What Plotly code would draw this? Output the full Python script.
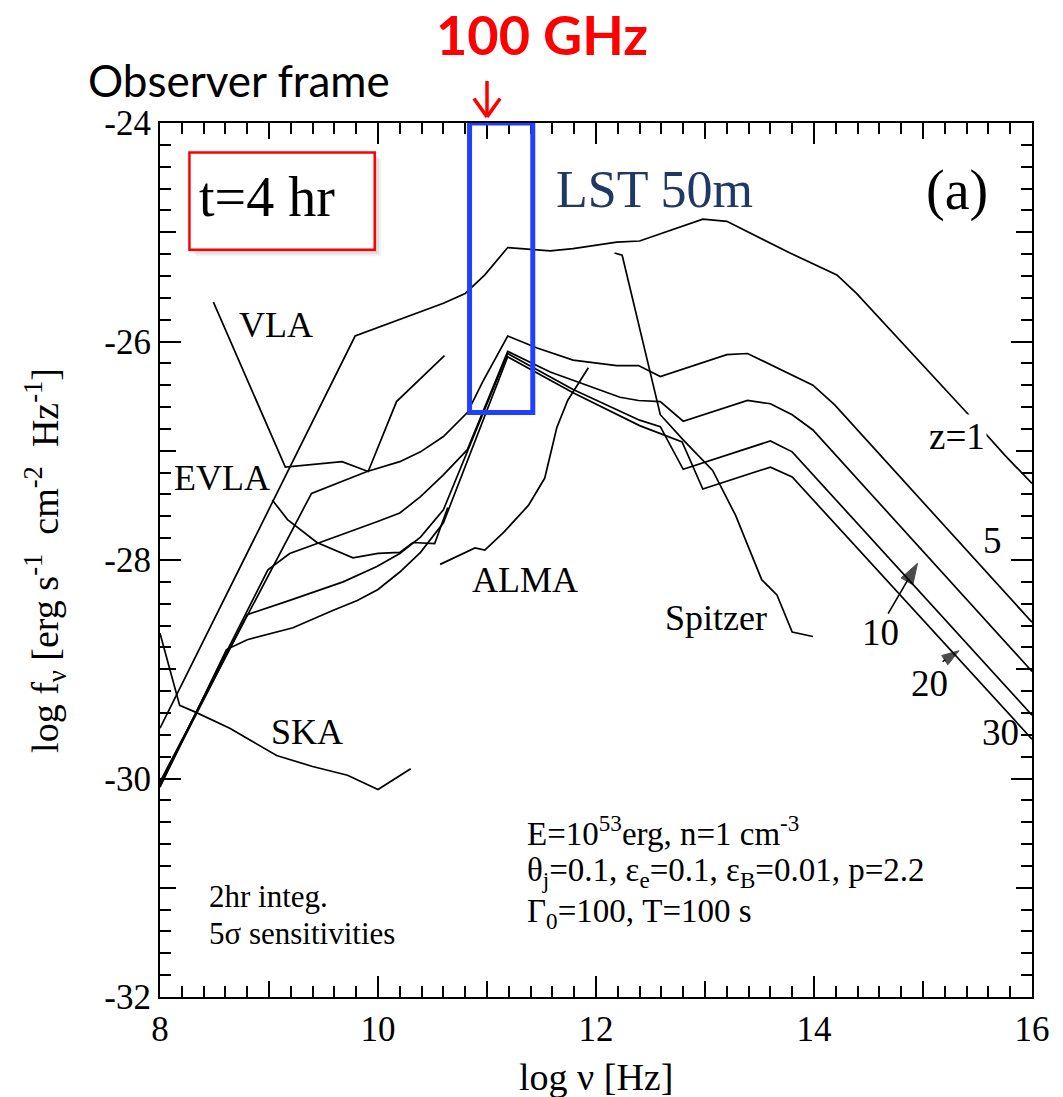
import plotly.graph_objects as go

# ---------------- data ----------------
# afterglow model curves, observer frame, t = 4 hr
x_z1 = [8.0, 9.79, 10.60, 10.80, 10.98, 11.19, 11.58, 11.79, 12.19, 12.40, 12.98, 13.20, 13.78, 14.21, 14.39, 15.40, 15.75, 16.0]
y_z1 = [-29.54, -25.95, -25.65, -25.56, -25.39, -25.14, -25.17, -25.15, -25.09, -25.08, -24.88, -24.90, -25.19, -25.39, -25.56, -26.65, -27.04, -27.30]

x_z5 = [8.0, 9.39, 9.90, 10.20, 10.39, 10.60, 10.82, 10.96, 11.19, 11.46, 11.79, 12.19, 12.39, 12.59, 13.20, 13.39, 13.99, 14.19, 16.0]
y_z5 = [-30.03, -27.39, -27.19, -27.10, -27.01, -26.87, -26.65, -26.37, -25.95, -26.06, -26.17, -26.22, -26.22, -26.32, -26.12, -26.11, -26.40, -26.58, -28.57]

x_z10 = [8.0, 8.99, 9.19, 9.72, 9.99, 10.20, 10.39, 10.60, 10.82, 11.19, 11.58, 12.22, 12.39, 12.59, 12.80, 13.39, 13.60, 13.80, 13.99, 16.0]
y_z10 = [-30.05, -28.09, -27.94, -27.75, -27.65, -27.57, -27.42, -27.22, -26.99, -26.09, -26.28, -26.51, -26.54, -26.55, -26.73, -26.54, -26.57, -26.67, -26.81, -29.02]

x_z20 = [8.0, 8.80, 9.19, 9.68, 9.99, 10.20, 10.39, 10.60, 11.19, 11.79, 12.40, 12.59, 12.80, 13.60, 13.80, 16.0]
y_z20 = [-30.06, -28.50, -28.37, -28.20, -28.06, -27.94, -27.79, -27.54, -26.11, -26.44, -26.72, -26.78, -27.17, -26.91, -27.01, -29.42]

x_z30 = [8.0, 8.61, 8.80, 9.22, 9.59, 9.81, 10.0, 10.20, 10.39, 10.60, 11.19, 11.79, 12.40, 12.79, 12.98, 13.60, 13.80, 16.0]
y_z30 = [-30.08, -28.82, -28.73, -28.62, -28.46, -28.37, -28.27, -28.11, -27.93, -27.66, -26.14, -26.47, -26.77, -26.92, -27.35, -27.15, -27.24, -29.64]

# instrument sensitivities (2 hr integration, 5 sigma)
x_vla = [8.49, 9.15, 9.67, 9.91, 10.17, 10.61]
y_vla = [-25.64, -27.15, -27.10, -27.19, -26.55, -26.13]

x_evla = [9.03, 9.17, 9.44, 9.77, 10.00, 10.20, 10.32, 10.52, 10.64]
y_evla = [-27.45, -27.63, -27.84, -27.98, -27.94, -27.93, -27.84, -27.85, -27.52]

x_alma = [10.57, 10.89, 10.98, 11.15, 11.38, 11.53, 11.64, 11.74, 11.93]
y_alma = [-28.04, -27.89, -27.91, -27.75, -27.50, -27.25, -26.79, -26.54, -26.24]

x_ska = [8.0, 8.18, 8.32, 8.64, 9.07, 9.40, 9.72, 10.00, 10.30]
y_ska = [-28.67, -29.33, -29.39, -29.54, -29.79, -29.89, -29.97, -30.10, -29.91]

x_spitzer = [12.17, 12.24, 12.59, 12.80, 13.07, 13.28, 13.41, 13.52, 13.66, 13.80, 13.99]
y_spitzer = [-25.19, -25.21, -26.67, -26.90, -27.18, -27.59, -27.91, -28.18, -28.32, -28.66, -28.70]

x_label_ticks = [8, 10, 12, 14, 16]
x_mid_ticks = [9, 11, 13, 15]
y_label_ticks = [-32, -30, -28, -26, -24]
y_mid_ticks = [-31, -29, -27, -25]

# ---------------- figure ----------------
SERIF = "Liberation Serif, Times New Roman, serif"
SANS = "Lato, Open Sans, sans-serif"
fig = go.Figure()

line_style = dict(color="black", width=1.7)
for xs, ys, nm in [(x_z1, y_z1, "z=1"), (x_z5, y_z5, "z=5"), (x_z10, y_z10, "z=10"),
                   (x_z20, y_z20, "z=20"), (x_z30, y_z30, "z=30"),
                   (x_vla, y_vla, "VLA"), (x_evla, y_evla, "EVLA"), (x_alma, y_alma, "ALMA"),
                   (x_ska, y_ska, "SKA"), (x_spitzer, y_spitzer, "Spitzer")]:
    fig.add_trace(go.Scatter(x=xs, y=ys, mode="lines", line=line_style, name=nm,
                             showlegend=False, hoverinfo="skip"))

# pointer arrows for the z=10 and z=20 labels (tail -> head)
for ax_, ay_, hx, hy, sz in [(14.68, -28.49, 14.95, -28.03, 22), (15.18, -28.93, 15.33, -28.83, 18)]:
    fig.add_trace(go.Scatter(x=[ax_, hx], y=[ay_, hy], mode="lines+markers",
                             line=dict(color="black", width=1.6),
                             marker=dict(symbol="arrow", size=[0, sz], angleref="previous",
                                         color="black", line=dict(width=1, color="black")),
                             showlegend=False, hoverinfo="skip"))

# invisible trace to carry the overlay axes that draw the unlabeled integer ticks
fig.add_trace(go.Scatter(x=[None], y=[None], xaxis="x2", yaxis="y2", showlegend=False,
                         hoverinfo="skip"))

axis_common = dict(
    showline=True, linecolor="black", linewidth=2, mirror="allticks",
    ticks="inside", ticklen=21, tickwidth=1.5, tickcolor="black",
    showgrid=False, zeroline=False,
    tickfont=dict(family=SERIF, size=35, color="black"),
    minor=dict(ticks="inside", ticklen=11, tickwidth=1.5, tickcolor="black", dtick=0.2, showgrid=False),
)
fig.update_layout(
    xaxis=dict(range=[8, 16], tickmode="array", tickvals=x_label_ticks,
               ticktext=[str(v) for v in x_label_ticks], **axis_common),
    yaxis=dict(range=[-32, -24], tickmode="array", tickvals=y_label_ticks,
               ticktext=[str(v) for v in y_label_ticks], **axis_common),
    xaxis2=dict(range=[8, 16], overlaying="x", anchor="y2", side="bottom", tickmode="array",
                tickvals=x_mid_ticks, showticklabels=False, ticks="inside", ticklen=16,
                tickwidth=1.5, tickcolor="black", mirror="ticks", showline=False,
                showgrid=False, zeroline=False),
    yaxis2=dict(range=[-32, -24], overlaying="y", anchor="x2", side="left", tickmode="array",
                tickvals=y_mid_ticks, showticklabels=False, ticks="inside", ticklen=16,
                tickwidth=1.5, tickcolor="black", mirror="ticks", showline=False,
                showgrid=False, zeroline=False),
)

shapes = []
# t=4 hr box with soft shadow
for off, a in [(0.06, 0.05), (0.04, 0.07), (0.02, 0.08)]:
    shapes.append(dict(type="rect", xref="x", yref="y", x0=8.27 + off, x1=9.97 + off,
                       y0=-25.16 - off, y1=-24.27 - off, line=dict(width=0),
                       fillcolor=f"rgba(0,0,0,{a})", layer="above"))
shapes.append(dict(type="rect", xref="x", yref="y", x0=8.27, x1=9.97, y0=-25.16, y1=-24.27,
                   line=dict(color="#ff0000", width=2.5), fillcolor="white", layer="above"))
# LST band around 100 GHz
shapes.append(dict(type="rect", xref="x", yref="y", x0=10.84, x1=11.42, y0=-26.65, y1=-24.0,
                   line=dict(color="#1f40ff", width=5), fillcolor="rgba(0,0,0,0)", layer="above"))
# red arrow above the axis at 100 GHz
shapes.append(dict(type="line", xref="x", yref="paper", x0=11.0, x1=11.0, y0=1.048, y1=1.008,
                   line=dict(color="#ff0000", width=3.5)))
shapes.append(dict(type="line", xref="x", yref="paper", x0=10.88, x1=11.0, y0=1.028, y1=1.007,
                   line=dict(color="#ff0000", width=3.5)))
shapes.append(dict(type="line", xref="x", yref="paper", x0=11.12, x1=11.0, y0=1.028, y1=1.007,
                   line=dict(color="#ff0000", width=3.5)))
fig.update_layout(shapes=shapes)

ann = []
def txt(x, y, s, size=36, color="black", family=SERIF, xanchor="center", yanchor="middle",
        xref="x", yref="y", bg=None, angle=0):
    d = dict(x=x, y=y, text=s, showarrow=False, xref=xref, yref=yref, xanchor=xanchor,
             yanchor=yanchor, font=dict(family=family, size=size, color=color), textangle=angle)
    if bg:
        d["bgcolor"] = bg
    ann.append(d)

txt(11.5, 1.1007, "<b>100 GHz</b>", size=54, color="#ff0000", family=SANS, yref="paper")
txt(-0.085, 1.049, "Observer frame", size=44, family=SANS, xanchor="left", xref="paper", yref="paper")
txt(8.98, -24.68, "t=4 hr", size=56)
txt(12.54, -24.61, "LST 50m", size=52, color="#1f3864")
txt(15.31, -24.62, "(a)", size=56)
txt(9.06, -25.85, "VLA", size=36)
txt(8.57, -27.25, "EVLA", size=36)
txt(11.35, -28.18, "ALMA", size=36)
txt(9.35, -29.57, "SKA", size=36)
txt(13.10, -28.53, "Spitzer", size=36)
txt(15.31, -26.87, "z=1", size=37, bg="white")
txt(15.64, -27.82, "5", size=37)
txt(14.61, -28.66, "10", size=37)
txt(15.06, -29.13, "20", size=37)
txt(15.71, -29.58, "30", size=37)
txt(11.35, -30.48, "E=10<sup>53</sup>erg, n=1 cm<sup>-3</sup>", size=33, xanchor="left")
txt(11.35, -30.86, "θ<sub>j</sub>=0.1, ε<sub>e</sub>=0.1, ε<sub>B</sub>=0.01, p=2.2", size=33, xanchor="left")
txt(11.35, -31.24, "Γ<sub>0</sub>=100, T=100 s", size=33, xanchor="left")
txt(8.43, -31.08, "2hr integ.", size=31, xanchor="left")
txt(8.43, -31.42, "5σ sensitivities", size=31, xanchor="left")
# axis titles
txt(0.5, -0.092, "log ν [Hz]", size=38, xref="paper", yref="paper")
txt(-0.132, 0.5, "log f<sub>ν</sub> [erg s<sup>-1</sup>  cm<sup>-2</sup>  Hz<sup>-1</sup>]", size=38,
    xref="paper", yref="paper", angle=-90)

fig.update_layout(
    annotations=ann,
    width=1063, height=1097,
    margin=dict(l=160, r=31, t=123, b=100),
    paper_bgcolor="white", plot_bgcolor="white",
    showlegend=False,
)

fig.write_html("out.html")
